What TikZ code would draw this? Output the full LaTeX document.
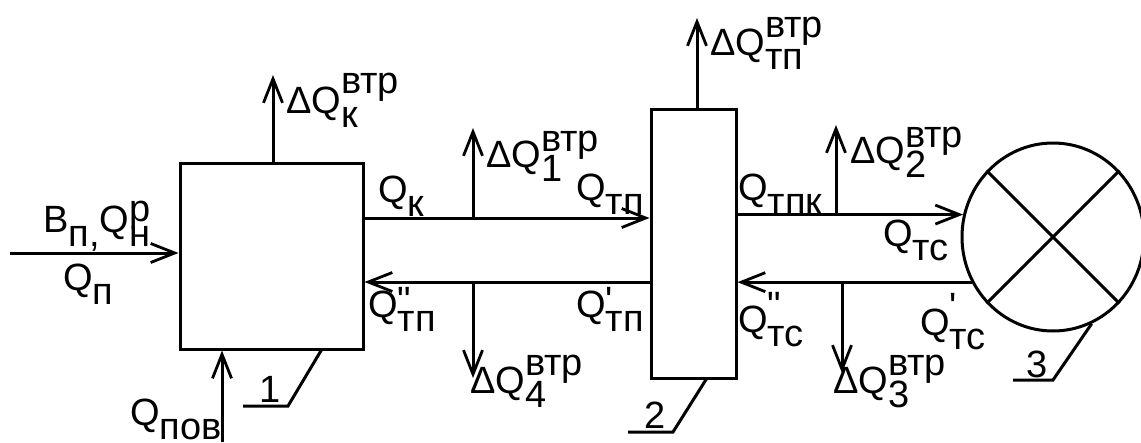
\documentclass[tikz,border=0pt]{standalone}
\usepackage{fontspec}
\setmainfont{Liberation Sans}[Ligatures=TeXOff]
\usetikzlibrary{arrows.meta,shapes.geometric}
\newcommand\SbSp[3][0.45em]{%
  \setbox0=\hbox{\raisebox{-0.38em}{#2}}%
  \setbox2=\hbox{\raisebox{#1}{#3}}%
  \ifdim\wd0>\wd2 \dimen0=\wd0 \else \dimen0=\wd2 \fi
  \hbox to \dimen0{\rlap{\box2}\box0\hss}}
\tikzset{
  ln/.style={line width=3pt},
  arr/.style={ln,-{Straight Barb[length=24pt,width=19pt,line width=2.8pt]}},
  blk/.style={draw,ln,rectangle,inner sep=0pt},
  lbl/.style={anchor=base west,inner sep=0pt,font=\fontsize{38}{42}\selectfont},
}
\begin{document}
\begin{tikzpicture}[x=1pt,y=-1pt]
\useasboundingbox (0,0) rectangle (1141,442);
% blocks
\node[blk,minimum width=183pt,minimum height=186pt] (b1) at (271.5,256) {};
\node[blk,minimum width=85pt,minimum height=269pt] (b2) at (693.5,243.5) {};
\node[draw,ln,ellipse,minimum width=182pt,minimum height=188pt,inner sep=0pt] (c) at (1053,237) {};
\draw[ln] (c.135) -- (c.-45);
\draw[ln] (c.45) -- (c.-135);
% helper coordinates
\coordinate (inL) at (10,253);
\coordinate (pov) at (222,442);
\coordinate (kT) at (273,75);
\coordinate (fY) at (0,218);
\coordinate (rY) at (0,282);
\coordinate (d1) at (473,128);
\coordinate (d4) at (473,378);
\coordinate (dtp) at (697,18);
\coordinate (d2) at (836,125);
\coordinate (d3) at (842,373);
% connectors
\draw[arr] (inL) -- (b1.west |- inL);
\draw[arr] (pov) -- (pov |- b1.south);
\draw[arr] (kT |- b1.north) -- (kT);
\draw[arr] (b1.east |- fY) -- (b2.west |- fY);
\draw[arr] (b2.west |- rY) -- (b1.east |- rY);
\draw[arr] (d1 |- fY) -- (d1);
\draw[arr] (d4 |- rY) -- (d4);
\draw[arr] (dtp |- b2.north) -- (dtp);
\draw[arr] (b2.east |- c.166.7) -- (c.166.7);
\draw[arr] (c.209.6) -- (b2.east |- c.209.6);
\draw[arr] (d2 |- c.166.7) -- (d2);
\draw[arr] (d3 |- c.209.6) -- (d3);
% leaders
\coordinate (l1a) at (322,349); \coordinate (l1b) at (288,406); \coordinate (l1c) at (243,406);
\draw[ln] (l1a) -- (l1b) -- (l1c);
\coordinate (l2a) at (707,378); \coordinate (l2b) at (673,432); \coordinate (l2c) at (628,432);
\draw[ln] (l2a) -- (l2b) -- (l2c);
\coordinate (l3b) at (1053,380); \coordinate (l3c) at (1013,380);
\draw[ln] (c.-66.7) -- (l3b) -- (l3c);
% labels
\node[lbl] (tdk) at (286,113) {ΔQ\SbSp[0.52em]{к}{втр}};
\node[lbl] (tBn) at (43,232) {B\SbSp{п,}{}Q\SbSp[0.28em]{н}{р}};
\node[lbl] (tQp) at (63,290) {Q\SbSp[0.3em]{п}{}};
\node[lbl] (tpov) at (130,425) {Q\SbSp{пов}{}};
\node[lbl] (t1) at (259,402) {1};
\node[lbl] (tQk) at (378,202) {Q\SbSp{к}{}};
\node[lbl] (td1) at (486,167) {ΔQ\SbSp[0.4em]{1}{втр}};
\node[lbl] (tQtp) at (576,200) {Q\SbSp{тп}{}};
\node[lbl] (tQtpr2) at (368,317) {Q\SbSp[0.1em]{тп}{"}};
\node[lbl] (tQtpr1) at (576,317) {Q\SbSp[0.1em]{тп}{'}};
\node[lbl] (td4) at (470,393) {ΔQ\SbSp{4}{втр}};
\node[lbl] (tdtp) at (710,55) {ΔQ\SbSp{тп}{втр}};
\node[lbl] (t2) at (644,428) {2};
\node[lbl] (tQtpk) at (738,200) {Q\SbSp{тпк}{}};
\node[lbl] (td2) at (850,163) {ΔQ\SbSp[0.4em]{2}{втр}};
\node[lbl] (tQtc) at (883,246) {Q\SbSp{тс}{}};
\node[lbl] (tQtc2) at (738,332) {Q\SbSp[0.35em]{тс}{"}};
\node[lbl] (tQtc1) at (920,335) {Q\SbSp[0.42em]{тс}{'}};
\node[lbl] (td3) at (833,393) {ΔQ\SbSp{3}{втр}};
\node[lbl] (t3) at (1026,377) {3};
\end{tikzpicture}
\end{document}
